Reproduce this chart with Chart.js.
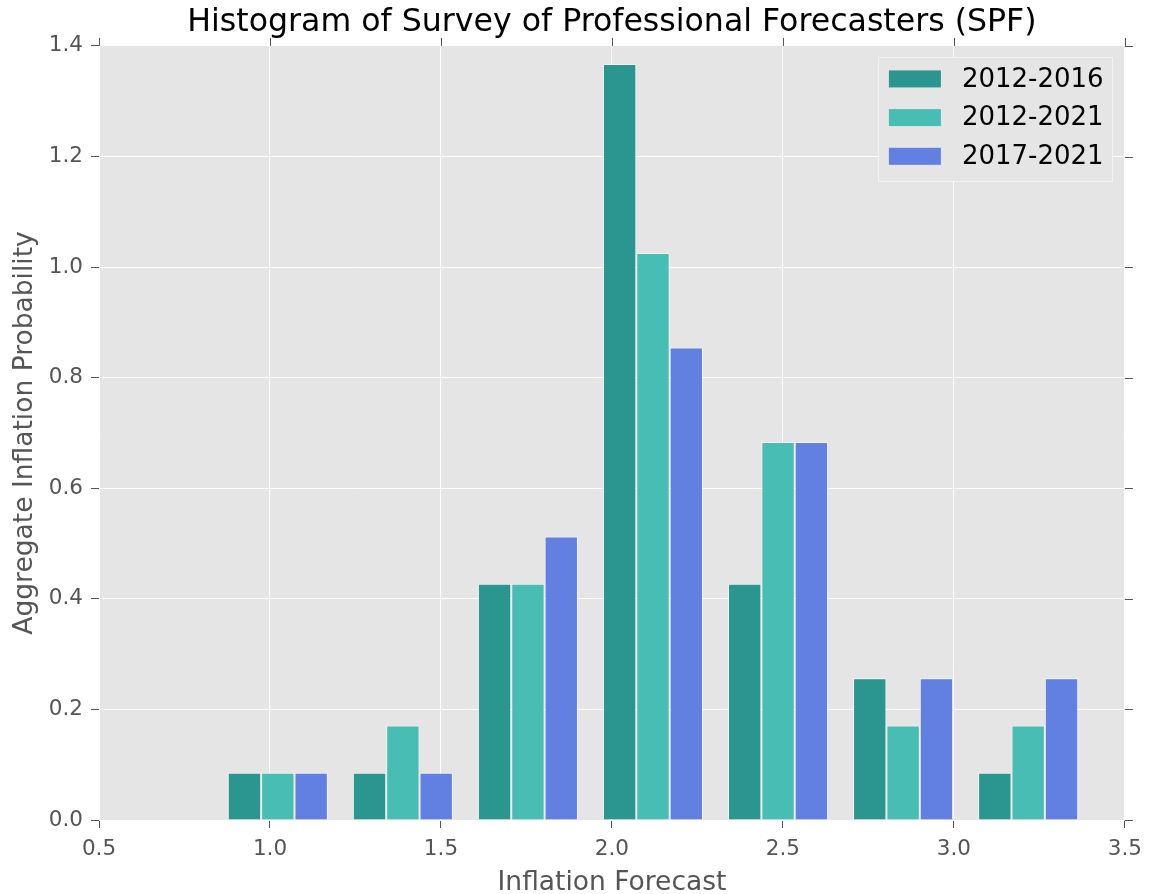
<!DOCTYPE html>
<html>
<head>
<meta charset="utf-8">
<title>SPF histogram</title>
<script src="https://cdn.jsdelivr.net/npm/chart.js@4.4.0/dist/chart.umd.min.js"></script>
<style>
  html, body { margin: 0; padding: 0; background: #fff; }
</style>
</head>
<body>
<canvas id="spf" width="1151" height="894"></canvas>
<script>
// bin centres of the histogram (inflation forecast, %)
const binCenters = [1.0229, 1.3886, 1.7543, 2.1200, 2.4857, 2.8514, 3.2171];
const seriesLabels = ['2012-2016', '2012-2021', '2017-2021'];
// density values
const spf2012_2016 = [0.0854, 0.0854, 0.4272, 1.3672, 0.4272, 0.2564, 0.0854];
const spf2012_2021 = [0.0854, 0.1709, 0.4272, 1.0254, 0.6836, 0.1709, 0.1709];
const spf2017_2021 = [0.0854, 0.0854, 0.5127, 0.8545, 0.6836, 0.2564, 0.2564];
const xTicks = [0.5, 1.0, 1.5, 2.0, 2.5, 3.0, 3.5];
const yTicks = [0.0, 0.2, 0.4, 0.6, 0.8, 1.0, 1.2, 1.4];
const seriesColors = ['#2b9590', '#48bdb4', '#6180e2'];

Chart.defaults.font.family = "'DejaVu Sans', sans-serif";

const toPoints = vals => binCenters.map((x, i) => ({ x: x, y: vals[i] }));

// grey panel, mirrored ticks on top/right and the boxed legend
const panel = {
  id: 'panel',
  beforeDraw(chart) {
    const { ctx, chartArea: a } = chart;
    ctx.save();
    ctx.fillStyle = '#e5e5e5';
    ctx.fillRect(a.left, a.top, a.right - a.left, a.bottom - a.top);
    ctx.restore();
  },
  afterDatasetsDraw(chart) {
    const { ctx, chartArea: a } = chart;
    const boxW = 235, boxH = 125;
    const left = a.right - 12 - boxW;
    const top = a.top + 11;
    ctx.save();
    ctx.fillStyle = '#e5e5e5';
    ctx.fillRect(left, top, boxW, boxH);
    ctx.strokeStyle = '#f4f4f4';
    ctx.lineWidth = 1;
    ctx.strokeRect(left + 0.5, top + 0.5, boxW - 1, boxH - 1);
    ctx.font = "26px 'DejaVu Sans', sans-serif";
    ctx.textBaseline = 'middle';
    ctx.textAlign = 'left';
    chart.data.datasets.forEach((ds, i) => {
      const cy = top + 22 + i * 38.7;
      ctx.fillStyle = ds.backgroundColor;
      ctx.fillRect(left + 11, cy - 8.5, 52, 17);
      ctx.fillStyle = '#000';
      ctx.fillText(ds.label, left + 84, cy + 1);
    });
    ctx.restore();
  },
  afterDraw(chart) {
    const { ctx, chartArea: a, scales } = chart;
    ctx.save();
    ctx.strokeStyle = '#555';
    ctx.lineWidth = 1;
    ctx.beginPath();
    scales.x.ticks.forEach(t => {
      const px = Math.round(scales.x.getPixelForValue(t.value)) + 0.5;
      ctx.moveTo(px, a.top);
      ctx.lineTo(px, a.top - 8);
    });
    scales.y.ticks.forEach(t => {
      const py = Math.round(scales.y.getPixelForValue(t.value)) + 0.5;
      ctx.moveTo(a.right, py);
      ctx.lineTo(a.right + 8, py);
    });
    ctx.stroke();
    ctx.restore();
  }
};

new Chart(document.getElementById('spf'), {
  type: 'bar',
  data: {
    datasets: [
      { label: seriesLabels[0], data: toPoints(spf2012_2016), backgroundColor: seriesColors[0] },
      { label: seriesLabels[1], data: toPoints(spf2012_2021), backgroundColor: seriesColors[1] },
      { label: seriesLabels[2], data: toPoints(spf2017_2021), backgroundColor: seriesColors[2] }
    ]
  },
  options: {
    responsive: false,
    animation: false,
    devicePixelRatio: 1,
    layout: { padding: { left: 0, right: 26, top: 0, bottom: 0 } },
    datasets: {
      bar: {
        barPercentage: 1.0,
        categoryPercentage: 0.8,
        borderColor: 'rgba(255,255,255,0.6)',
        borderWidth: 1
      }
    },
    plugins: {
      legend: { display: false },
      tooltip: { enabled: false },
      title: {
        display: true,
        fullSize: false,
        text: 'Histogram of Survey of Professional Forecasters (SPF)',
        color: '#000',
        font: { size: 31.6, weight: 'normal' },
        padding: { top: 4, bottom: 4 }
      }
    },
    scales: {
      x: {
        type: 'linear',
        min: 0.5,
        max: 3.5,
        offset: false,
        afterBuildTicks: s => { s.ticks = xTicks.map(v => ({ value: v })); },
        afterFit: s => { s.height = 74; },
        grid: { color: '#fff', lineWidth: 1, tickColor: '#555', tickLength: 8, offset: false },
        border: { display: false },
        ticks: { color: '#555', font: { size: 21.5 }, padding: 9, maxRotation: 0, callback: v => v.toFixed(1) },
        title: { display: true, text: 'Inflation Forecast', color: '#555', font: { size: 26.5 }, padding: { top: 0, bottom: -5 } }
      },
      y: {
        min: 0,
        max: 1.4,
        afterBuildTicks: s => { s.ticks = yTicks.map(v => ({ value: v })); },
        afterFit: s => { s.width = 99; },
        grid: { color: '#fff', lineWidth: 1, tickColor: '#555', tickLength: 8 },
        border: { display: false },
        ticks: { color: '#555', font: { size: 21.5 }, padding: 8, callback: v => v.toFixed(1) },
        title: { display: true, text: 'Aggregate Inflation Probability', color: '#555', font: { size: 26.5 }, padding: { top: 9, bottom: 0 } }
      }
    }
  },
  plugins: [panel]
});
</script>
</body>
</html>
